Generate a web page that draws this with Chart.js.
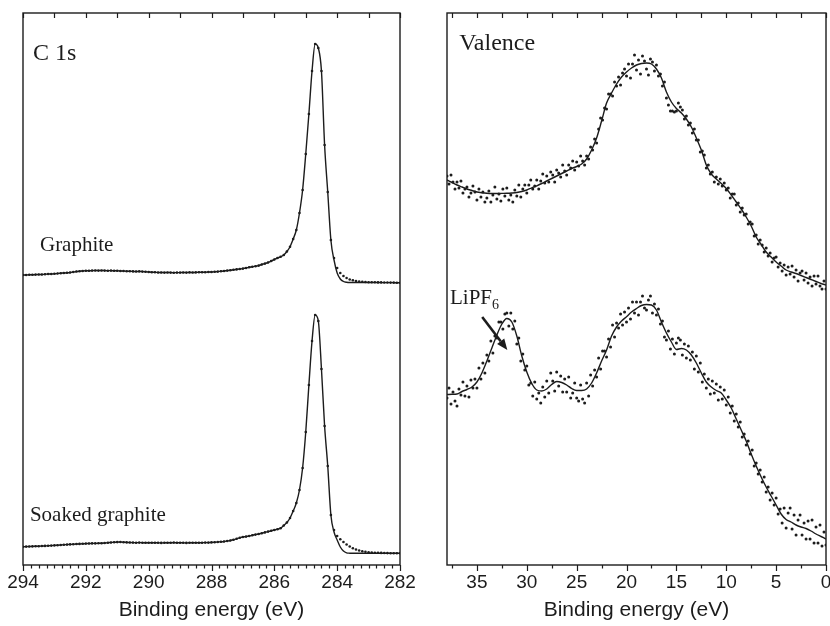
<!DOCTYPE html>
<html>
<head>
<meta charset="utf-8">
<script src="https://cdn.jsdelivr.net/npm/chart.js@4.4.1/dist/chart.umd.min.js"></script>
<style>
  html, body { margin: 0; padding: 0; background: #fff; width: 830px; height: 626px; overflow: hidden; }
  canvas { position: absolute; top: 0; }
  #c1s { left: 0; }
  #valence { left: 420px; }
</style>
</head>
<body>
<canvas id="c1s" width="420" height="626"></canvas>
<canvas id="valence" width="420" height="626"></canvas>
<script>
// binding energy grids (eV)
const grid = (start, end, step) => {
  const n = Math.round((start - end) / step);
  const out = [];
  for (let i = 0; i <= n; i++) out.push(+(start - i * step).toFixed(2));
  return out;
};
const c1sEnergy = grid(294, 282, 0.1);
const valDotEnergy = grid(38, 0, 0.2);
const valFitEnergy = grid(38, 0, 0.5);

// C 1s, intensity (a.u.), 294.0 -> 282.0 eV
const graphiteDots = [
  29.00,29.00,29.02,29.02,29.04,29.05,29.05,29.07,29.10,29.10,
  29.12,29.15,29.18,29.20,29.22,29.25,29.30,29.35,29.38,29.40,
  29.42,29.42,29.44,29.45,29.44,29.45,29.44,29.43,29.44,29.42,
  29.42,29.40,29.40,29.38,29.37,29.36,29.35,29.36,29.34,29.32,
  29.30,29.28,29.27,29.25,29.25,29.24,29.25,29.24,29.23,29.24,
  29.24,29.25,29.24,29.26,29.25,29.26,29.27,29.27,29.28,29.30,
  29.30,29.32,29.34,29.37,29.40,29.44,29.47,29.52,29.56,29.60,
  29.64,29.70,29.78,29.82,29.88,29.94,30.05,30.14,30.25,30.40,
  30.55,30.70,30.82,31.00,31.35,31.83,32.60,33.50,35.20,37.50,
  41.10,45.10,49.40,52.10,51.70,49.40,42.00,37.30,32.50,30.70,
  29.70,29.20,28.90,28.70,28.55,28.47,28.40,28.35,28.32,28.30,
  28.28,28.27,28.27,28.26,28.26,28.25,28.25,28.24,28.24,28.23,
  28.23
];
const graphiteFit = [
  29.00,29.00,29.02,29.02,29.04,29.05,29.05,29.07,29.10,29.10,
  29.12,29.15,29.18,29.20,29.22,29.25,29.30,29.35,29.38,29.40,
  29.42,29.42,29.44,29.45,29.44,29.45,29.44,29.43,29.44,29.42,
  29.42,29.40,29.40,29.38,29.37,29.36,29.35,29.36,29.34,29.32,
  29.30,29.28,29.27,29.25,29.25,29.24,29.25,29.24,29.23,29.24,
  29.24,29.25,29.24,29.26,29.25,29.26,29.27,29.27,29.28,29.30,
  29.30,29.32,29.34,29.37,29.40,29.44,29.47,29.52,29.56,29.60,
  29.64,29.70,29.78,29.82,29.88,29.94,30.05,30.14,30.25,30.40,
  30.55,30.70,30.82,31.00,31.35,31.83,32.60,33.50,35.20,37.50,
  41.10,45.10,49.40,52.10,51.70,49.40,42.00,37.30,32.50,30.50,
  29.20,28.60,28.35,28.27,28.25,28.25,28.25,28.25,28.25,28.25,
  28.25,28.25,28.25,28.25,28.24,28.24,28.24,28.24,28.23,28.23,
  28.23
];
const soakedDots = [
  1.83,1.84,1.85,1.86,1.87,1.88,1.90,1.91,1.92,1.94,
  1.96,1.98,2.00,2.02,2.04,2.06,2.07,2.10,2.11,2.12,
  2.14,2.15,2.16,2.16,2.17,2.18,2.20,2.23,2.25,2.27,
  2.29,2.30,2.28,2.26,2.25,2.24,2.23,2.24,2.23,2.22,
  2.23,2.22,2.23,2.22,2.21,2.22,2.23,2.22,2.24,2.22,
  2.23,2.22,2.21,2.22,2.22,2.23,2.22,2.23,2.24,2.24,
  2.26,2.27,2.30,2.32,2.35,2.40,2.45,2.52,2.62,2.72,
  2.80,2.84,2.90,2.98,3.04,3.10,3.18,3.26,3.34,3.42,
  3.50,3.58,3.68,3.95,4.25,4.70,5.40,6.20,7.50,9.70,
  13.30,18.00,22.40,25.00,24.40,19.60,13.90,9.90,5.00,3.50,
  2.90,2.57,2.30,2.05,1.85,1.68,1.55,1.45,1.37,1.32,
  1.28,1.25,1.23,1.22,1.21,1.20,1.19,1.18,1.18,1.17,
  1.17
];
const soakedFit = [
  1.83,1.84,1.85,1.86,1.87,1.88,1.90,1.91,1.92,1.94,
  1.96,1.98,2.00,2.02,2.04,2.06,2.07,2.10,2.11,2.12,
  2.14,2.15,2.16,2.16,2.17,2.18,2.20,2.23,2.25,2.27,
  2.29,2.30,2.28,2.26,2.25,2.24,2.23,2.24,2.23,2.22,
  2.23,2.22,2.23,2.22,2.21,2.22,2.23,2.22,2.24,2.22,
  2.23,2.22,2.21,2.22,2.22,2.23,2.22,2.23,2.24,2.24,
  2.26,2.27,2.30,2.32,2.35,2.40,2.45,2.52,2.62,2.72,
  2.80,2.84,2.90,2.98,3.04,3.10,3.18,3.26,3.34,3.42,
  3.50,3.58,3.68,3.95,4.25,4.70,5.40,6.20,7.50,9.70,
  13.30,18.00,22.40,25.00,24.40,19.60,13.90,9.90,5.00,3.30,
  2.50,1.80,1.40,1.22,1.18,1.17,1.17,1.17,1.17,1.17,
  1.17,1.17,1.17,1.17,1.17,1.17,1.17,1.17,1.17,1.17,
  1.17
];

// Valence, intensity (a.u.), dots 38.0 -> 0.0 eV every 0.2 eV
const valGraphiteDots = [
  38.9,38.1,39.0,38.3,37.6,38.3,37.7,38.4,37.2,37.6,
  37.8,36.8,37.2,37.9,37.3,36.5,37.6,36.8,37.3,36.3,
  36.7,37.4,36.3,37.0,37.8,36.6,37.1,36.4,37.6,36.9,
  37.7,36.5,37.0,36.3,37.5,36.9,38.0,36.8,37.6,38.0,
  37.2,38.0,38.5,37.6,37.9,38.5,37.6,38.4,39.1,38.2,
  38.9,38.3,39.3,39.0,38.3,39.5,39.2,38.8,40.0,39.4,
  39.0,40.0,39.7,40.4,39.5,40.3,39.9,40.9,40.4,40.0,
  40.9,40.6,41.8,41.5,42.6,42.2,43.6,44.7,44.5,45.7,
  45.6,47.1,47.1,46.9,48.3,47.9,48.8,48.0,49.2,49.6,
  48.9,50.1,48.7,50.1,51.0,49.5,50.5,49.1,50.9,50.4,
  49.6,49.0,50.6,50.3,49.4,50.0,48.9,49.1,47.9,48.3,
  46.7,46.0,45.4,45.4,45.3,45.4,46.2,45.8,45.5,44.6,
  44.9,44.0,44.2,43.2,43.6,42.5,42.5,41.3,41.4,41.0,
  39.7,40.0,39.1,39.3,38.3,38.8,38.1,38.6,37.9,38.2,
  37.5,37.7,36.7,37.1,37.1,36.0,36.2,35.3,35.7,35.0,
  35.1,34.1,34.3,34.1,32.9,33.0,32.1,32.5,32.0,31.3,
  31.7,30.9,31.2,30.3,30.7,30.8,29.8,30.2,29.4,30.0,
  29.0,29.8,29.1,29.9,28.8,29.5,28.4,29.2,29.4,28.5,
  29.2,28.2,28.8,27.9,28.9,28.1,28.9,27.9,27.6,28.4,
  27.6
];
const valSoakedDots = [
  16.7,17.7,16.1,17.3,16.4,15.9,17.6,17.0,18.3,16.9,
  17.9,16.8,18.5,17.7,18.6,17.7,19.7,18.6,20.2,19.2,
  21.0,20.4,22.4,21.2,22.9,22.7,24.3,24.3,23.6,25.1,
  25.2,23.9,25.2,23.6,24.4,22.1,22.7,20.4,21.1,19.5,
  19.9,18.0,18.2,16.9,18.3,16.6,17.2,16.2,17.8,16.8,
  18.4,17.2,19.2,18.4,17.4,19.3,17.9,18.9,17.3,18.6,
  17.3,18.8,16.7,17.2,18.2,16.7,16.4,18.0,16.6,16.2,
  18.2,16.9,19.0,17.9,19.5,18.8,20.7,19.6,21.4,21.4,
  20.8,22.6,21.8,24.0,22.8,24.2,23.7,25.1,24.0,25.3,
  24.3,25.7,24.6,26.3,25.2,26.3,25.0,26.3,26.9,25.7,
  25.5,26.5,26.9,25.2,26.1,25.0,25.6,24.1,24.4,22.8,
  22.5,23.4,21.6,22.6,21.1,22.2,22.7,22.5,21.0,22.1,
  20.7,21.9,20.5,21.3,19.6,20.9,19.3,20.2,18.3,19.1,
  17.7,18.6,17.1,18.4,17.2,18.1,16.5,17.8,16.6,17.5,
  16.0,16.8,15.2,15.9,14.4,15.1,13.8,14.3,12.8,13.1,
  12.0,12.4,11.1,11.5,9.9,10.2,9.1,9.5,8.3,8.8,
  7.3,7.8,6.5,7.2,6.0,6.7,5.1,5.6,4.2,5.7,
  3.7,5.2,5.7,3.6,5.0,3.0,4.5,5.0,3.0,4.2,
  2.6,4.4,2.6,4.5,2.2,3.8,2.2,4.0,1.9,3.3,
  2.0
];
// fitted curves 38.0 -> 0.0 eV every 0.5 eV
const valGraphiteFit = [
  38.5,38.25,38.0,37.8,37.6,37.45,37.3,37.22,37.17,37.15,
  37.15,37.16,37.17,37.2,37.25,37.35,37.5,37.72,37.92,38.15,
  38.4,38.65,38.9,39.15,39.4,39.65,39.85,40.1,40.6,41.5,
  42.7,44.4,46.2,47.2,48.1,48.8,49.3,49.7,50.0,50.15,
  50.2,50.1,49.6,48.7,47.3,46.3,45.65,45.2,44.6,43.8,
  42.7,41.5,40.0,39.1,38.6,38.15,37.65,37.0,36.3,35.6,
  34.8,33.9,32.8,32.05,31.3,30.8,30.3,29.9,29.5,29.3,
  29.15,28.95,28.75,28.55,28.35,28.15,28.0
];
const valSoakedFit = [
  17.05,17.07,17.1,17.35,17.55,17.8,18.3,19.2,20.4,21.7,
  23.0,24.1,24.65,24.3,22.9,20.9,19.3,18.15,17.5,17.4,
  17.6,18.05,18.35,18.25,18.0,17.65,17.45,17.45,17.6,18.2,
  19.2,20.4,21.5,22.9,23.8,24.4,24.83,25.3,25.65,25.95,
  26.05,26.0,25.5,24.3,23.2,22.3,21.55,21.65,21.5,21.0,
  20.2,19.2,18.3,17.8,17.45,17.2,16.5,15.7,14.6,13.5,
  12.4,11.1,9.9,8.8,7.8,6.9,6.0,5.1,4.55,4.3,
  4.0,3.8,3.65,3.4,3.1,2.85,2.6
];

const INK = '#1c1c1c';
const pts = (xs, ys) => xs.map((x, i) => ({ x, y: ys[i] }));

// box frame, inward top ticks, outward bottom ticks, text notes
const frameTicks = {
  id: 'frameTicks',
  afterDatasetsDraw(chart, args, opts) {
    const { ctx, chartArea: a } = chart;
    const xs = chart.scales.x, ys = chart.scales.y;
    const px = v => Math.round(xs.getPixelForValue(v)) + 0.5;
    ctx.save();
    ctx.strokeStyle = INK;
    ctx.lineWidth = 1.2;
    ctx.beginPath();
    let n = Math.round((opts.max - opts.min) / opts.minorStep);
    for (let i = 0; i <= n; i++) {
      const v = opts.min + i * opts.minorStep;
      const r = v / opts.majorStep;
      const major = Math.abs(r - Math.round(r)) < 1e-6;
      ctx.moveTo(px(v), a.bottom);
      ctx.lineTo(px(v), a.bottom + (major ? 6 : 3.5));
    }
    n = Math.round((opts.max - opts.min) / opts.topStep);
    for (let i = 0; i <= n; i++) {
      const v = opts.min + i * opts.topStep;
      ctx.moveTo(px(v), a.top);
      ctx.lineTo(px(v), a.top + 5);
    }
    ctx.stroke();
    ctx.lineWidth = 1.4;
    ctx.strokeRect(a.left, a.top, a.right - a.left, a.bottom - a.top);

    ctx.fillStyle = INK;
    ctx.textBaseline = 'alphabetic';
    ctx.textAlign = 'left';
    for (const t of opts.notes) {
      const x = xs.getPixelForValue(t.x), y = ys.getPixelForValue(t.y);
      ctx.font = t.size + 'px "Liberation Serif", "Times New Roman", serif';
      ctx.fillText(t.text, x, y);
      if (t.sub) {
        const w = ctx.measureText(t.text).width;
        ctx.font = Math.round(t.size * 0.68) + 'px "Liberation Serif", serif';
        ctx.fillText(t.sub, x + w, y + 5);
      }
    }
    if (opts.arrow) {
      const [x0, y0] = [xs.getPixelForValue(opts.arrow.from[0]), ys.getPixelForValue(opts.arrow.from[1])];
      const [x1, y1] = [xs.getPixelForValue(opts.arrow.to[0]), ys.getPixelForValue(opts.arrow.to[1])];
      const ang = Math.atan2(y1 - y0, x1 - x0);
      const hl = 11, hw = 4.5;
      const bx = x1 - hl * Math.cos(ang), by = y1 - hl * Math.sin(ang);
      ctx.lineWidth = 2.6;
      ctx.beginPath();
      ctx.moveTo(x0, y0);
      ctx.lineTo(bx, by);
      ctx.stroke();
      ctx.beginPath();
      ctx.moveTo(x1, y1);
      ctx.lineTo(bx + hw * Math.sin(ang), by - hw * Math.cos(ang));
      ctx.lineTo(bx - hw * Math.sin(ang), by + hw * Math.cos(ang));
      ctx.closePath();
      ctx.fill();
    }
    ctx.restore();
  }
};

function makePanel(id, cfg) {
  const dotSet = (xs, ys) => ({
    data: pts(xs, ys), showLine: false,
    pointRadius: cfg.dotRadius, pointBorderWidth: 0,
    pointBackgroundColor: INK, pointHoverRadius: 0
  });
  const fitSet = (xs, ys) => ({
    data: pts(xs, ys), showLine: true, pointRadius: 0,
    borderColor: INK, borderWidth: 1.4,
    cubicInterpolationMode: 'monotone', fill: false
  });
  return new Chart(document.getElementById(id), {
    type: 'scatter',
    data: {
      datasets: [
        dotSet(cfg.dotX, cfg.dots[0]), dotSet(cfg.dotX, cfg.dots[1]),
        fitSet(cfg.fitX, cfg.fits[0]), fitSet(cfg.fitX, cfg.fits[1])
      ]
    },
    options: {
      responsive: false,
      animation: false,
      layout: { padding: cfg.padding },
      plugins: {
        legend: { display: false },
        tooltip: { enabled: false },
        frameTicks: cfg.frame
      },
      scales: {
        x: {
          type: 'linear', reverse: true,
          min: cfg.frame.min, max: cfg.frame.max,
          grid: { display: false },
          border: { display: false },
          ticks: {
            stepSize: cfg.frame.majorStep, includeBounds: false,
            autoSkip: false, maxRotation: 0, padding: -2, color: INK,
            font: { family: '"Liberation Sans", Arial, sans-serif', size: 19 }
          },
          title: {
            display: true, text: 'Binding energy (eV)', color: INK,
            font: { family: '"Liberation Sans", Arial, sans-serif', size: 21 },
            padding: { top: 0, bottom: 3 }
          },
          afterFit(scale) { scale.height = 61; }
        },
        y: { display: false, min: 0, max: 55.2 }
      }
    },
    plugins: [frameTicks]
  });
}

makePanel('c1s', {
  dotX: c1sEnergy, fitX: c1sEnergy,
  dots: [graphiteDots, soakedDots],
  fits: [graphiteFit, soakedFit],
  dotRadius: 1.3,
  padding: { left: 23, top: 13, right: 20, bottom: 0 },
  frame: {
    min: 282, max: 294, majorStep: 2, minorStep: 0.25, topStep: 1,
    notes: [
      { text: 'C 1s', x: 293.68, y: 50.5, size: 24 },
      { text: 'Graphite', x: 293.46, y: 31.4, size: 21 },
      { text: 'Soaked graphite', x: 293.78, y: 4.4, size: 21 }
    ]
  }
});

makePanel('valence', {
  dotX: valDotEnergy, fitX: valFitEnergy,
  dots: [valGraphiteDots, valSoakedDots],
  fits: [valGraphiteFit, valSoakedFit],
  dotRadius: 1.5,
  padding: { left: 27, top: 13, right: 14, bottom: 0 },
  frame: {
    min: 0, max: 38, majorStep: 5, minorStep: 2.5, topStep: 2.5,
    notes: [
      { text: 'Valence', x: 36.78, y: 51.5, size: 24 },
      { text: 'LiPF', sub: '6', x: 37.7, y: 26.1, size: 21 }
    ],
    arrow: { from: [34.47, 24.8], to: [31.95, 21.5] }
  }
});
</script>
</body>
</html>
